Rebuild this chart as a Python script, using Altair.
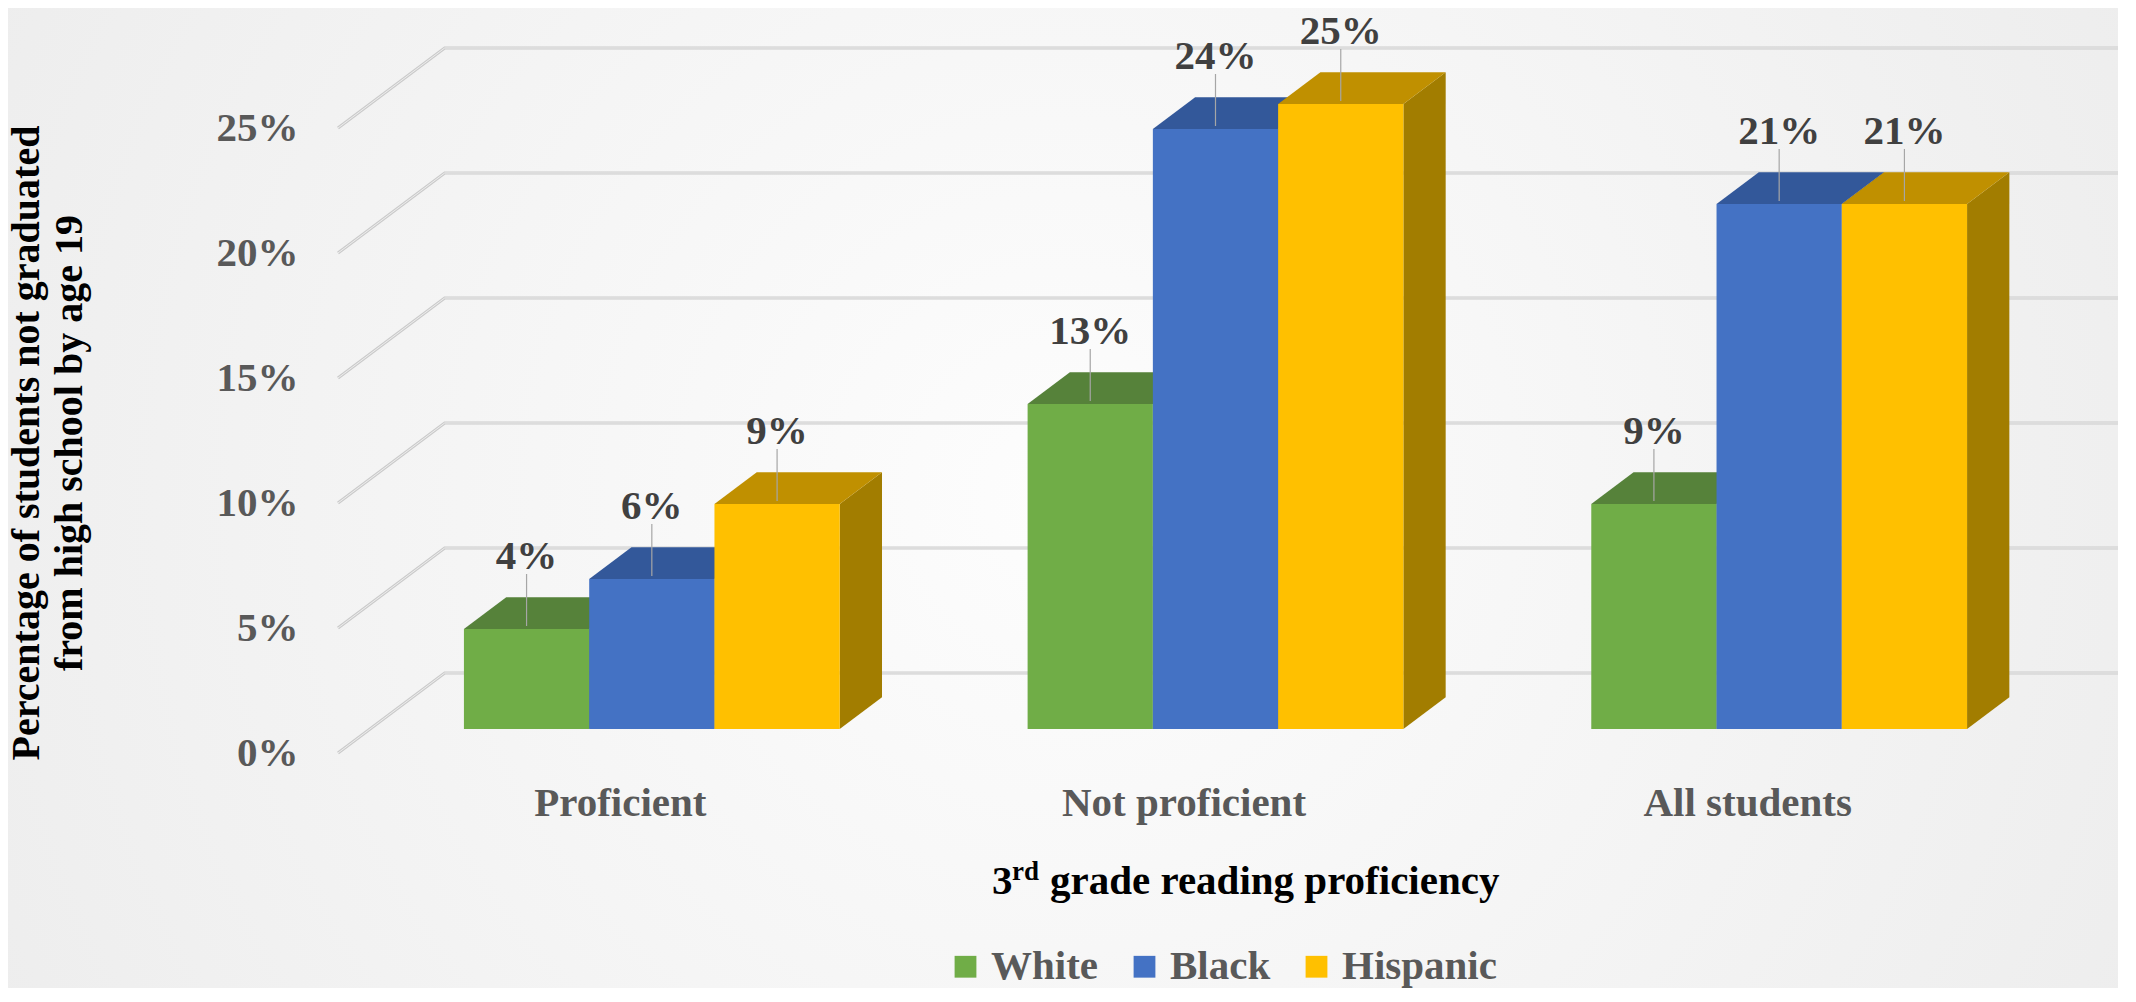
import json
import altair as alt
import pandas as pd

# ---------------- data ----------------
CATEGORIES = ["Proficient", "Not proficient", "All students"]
SERIES = ["White", "Black", "Hispanic"]
WHITE = [4, 13, 9]
BLACK = [6, 24, 21]
HISPANIC = [9, 25, 21]
TICKS = [0, 5, 10, 15, 20, 25]

# ---------------- style ----------------
FRONT_COLORS = ["#70AD47", "#4472C4", "#FFC000"]
TOP_COLORS = ["#56823A", "#33589A", "#C09000"]
SIDE_COLORS = ["#4B7231", "#2B4C85", "#A27D00"]
FONT = "Liberation Serif"

PX_PER_X = 125.26          # pixels per bar width
PX_PER_Y = 25.0            # pixels per percentage point
W, H = 1780, 745
XMAX = W / PX_PER_X
YMAX = H / PX_PER_Y
GROUP_START, GROUP_STEP = 0.75, 4.5
BX0, BY0 = 0.2554, 0.96    # bar front plane relative to floor front
BDX, BDY = 0.3376, 1.268   # bar depth
WX, WY = 0.8516, 3.2       # floor depth (back wall offset)
LABEL_OFF = 2.9

values = {"White": WHITE, "Black": BLACK, "Hispanic": HISPANIC}

front, top, side, lab = [], [], [], []
for si, s in enumerate(SERIES):
    for gi, c in enumerate(CATEGORIES):
        v = values[s][gi]
        a = GROUP_START + gi * GROUP_STEP + si + BX0
        bid = f"{gi}{si}"
        front.append(dict(series=s, x=a, x2=a + 1, y=BY0, y2=v + BY0))
        top.append(dict(bid=bid, col=TOP_COLORS[si], y=v + BY0, x=a, x2=a + 1))
        top.append(dict(bid=bid, col=TOP_COLORS[si], y=v + BY0 + BDY, x=a + BDX, x2=a + 1 + BDX))
        side.append(dict(bid=bid, col=SIDE_COLORS[si], x=a + 1, y=BY0, y2=v + BY0))
        side.append(dict(bid=bid, col=SIDE_COLORS[si], x=a + 1 + BDX, y=BY0 + BDY, y2=v + BY0 + BDY))
        lab.append(dict(x=a + 0.5, ylab=v + BY0 + LABEL_OFF, yl1=v + BY0 + 0.12,
                        yl2=v + BY0 + 2.2, text=f"{v}%"))

grid = []
for t in TICKS:
    grid += [dict(tick=t, o=0, x=0, y=t), dict(tick=t, o=1, x=WX, y=t + WY),
             dict(tick=t, o=2, x=XMAX, y=t + WY)]

df_front, df_top, df_side = pd.DataFrame(front), pd.DataFrame(top), pd.DataFrame(side)
df_lab, df_grid = pd.DataFrame(lab), pd.DataFrame(grid)

XS = alt.Scale(domain=[0, XMAX], nice=False, zero=False)
YS = alt.Scale(domain=[0, YMAX], nice=False, zero=False)
cat_centers = [GROUP_START + gi * GROUP_STEP + 1.5 for gi in range(len(CATEGORIES))]
XAX = alt.Axis(values=cat_centers,
               labelExpr=f"{json.dumps(CATEGORIES)}[round((datum.value - {cat_centers[0]}) / {GROUP_STEP})]",
               labelPadding=30, tickSize=0, ticks=False, domain=False, grid=False,
               labelOverlap=False, labelFlush=False, labelBound=False, labelLimit=600,
               zindex=2)
YAX = alt.Axis(values=TICKS, labelExpr="datum.value + '%'", labelPadding=40, tickSize=0,
               ticks=False, domain=False, grid=False, labelOverlap=False, labelFlush=False,
               labelLimit=300, zindex=2)


def X(f, **kw):
    return alt.X(f, type="quantitative", scale=XS, axis=XAX, title=None, **kw)


def Y(f, **kw):
    return alt.Y(f, type="quantitative", scale=YS, axis=YAX, title=None, **kw)


bg = alt.Chart(pd.DataFrame({"a": [0]})).mark_rect(
    fill={"gradient": "radial",
          "stops": [{"offset": 0, "color": "#fdfdfd"}, {"offset": 1, "color": "#e8e8e8"}],
          "x1": 0.5, "y1": 0.5, "x2": 0.5, "y2": 0.5, "r1": 0, "r2": 0.75}
).encode(x=alt.value(-330), x2=alt.value(W), y=alt.value(0), y2=alt.value(980))

grid_outer = alt.Chart(df_grid).mark_line(stroke="#CBCBCB", strokeWidth=3.2).encode(
    x=X("x"), y=Y("y"), detail="tick:N", order="o:Q")
grid_inner = alt.Chart(df_grid).mark_line(stroke="#EEEEEE", strokeWidth=1).encode(
    x=X("x"), y=Y("y"), detail="tick:N", order="o:Q")

sides = alt.Chart(df_side).mark_area(orient="vertical").encode(
    x=X("x"), y=Y("y", stack=None), y2="y2:Q", detail="bid:N",
    color=alt.Color("col:N", scale=None))
tops = alt.Chart(df_top).mark_area(orient="horizontal").encode(
    y=Y("y"), x=X("x", stack=None), x2="x2:Q", detail="bid:N",
    color=alt.Color("col:N", scale=None))
fronts = alt.Chart(df_front).mark_rect().encode(
    x=X("x"), x2="x2:Q", y=Y("y"), y2="y2:Q",
    color=alt.Color("series:N", scale=alt.Scale(domain=SERIES, range=FRONT_COLORS),
                    legend=alt.Legend(title=None), sort=SERIES))

leaders = alt.Chart(df_lab).mark_rule(stroke="#A6A6A6", strokeWidth=1.2).encode(
    x=X("x"), y=Y("yl1"), y2="yl2:Q")
labels = alt.Chart(df_lab).mark_text(font=FONT, fontSize=41, fontWeight="bold",
                                     color="#404040", baseline="middle").encode(
    x=X("x"), y=Y("ylab"), text="text:N")

one = pd.DataFrame({"a": [0]})
ytitle = alt.Chart(one).mark_text(
    font=FONT, fontSize=40, fontWeight="bold", color="#000000", angle=270,
    align="center", baseline="middle", lineHeight=43, lineBreak="\n").encode(
    x=alt.value(-311), y=alt.value(435),
    text=alt.value("Percentage of students not graduated\nfrom high school by age 19"))

xt_kw = dict(font=FONT, fontWeight="bold", color="#000000", align="left", baseline="alphabetic")
xt1 = alt.Chart(one).mark_text(fontSize=41, **xt_kw).encode(
    x=alt.value(654), y=alt.value(886), text=alt.value("3"))
xt2 = alt.Chart(one).mark_text(fontSize=27, **xt_kw).encode(
    x=alt.value(674), y=alt.value(872), text=alt.value("rd"))
xt3 = alt.Chart(one).mark_text(fontSize=41, **xt_kw).encode(
    x=alt.value(712), y=alt.value(886), text=alt.value("grade reading proficiency"))

chart = alt.layer(
    bg, grid_outer, grid_inner, sides, tops, fronts, leaders, labels, ytitle, xt1, xt2, xt3
).resolve_scale(color="independent").properties(
    width=W, height=H,
    autosize=alt.AutoSizeParams(type="none"),
    padding={"left": 330, "top": 0, "right": 0, "bottom": 235},
    background="#eeeeee",
).configure_view(stroke=None).configure_axis(
    labelFont=FONT, labelFontSize=41, labelFontWeight="bold", labelColor="#595959"
).configure_legend(
    orient="none", legendX=607, legendY=938, direction="horizontal",
    symbolType="square", symbolSize=475, symbolStrokeWidth=0,
    labelFont=FONT, labelFontSize=41, labelFontWeight="bold", labelColor="#595959",
    labelOffset=5, columnPadding=25, padding=0, labelLimit=400, zindex=2
)

chart.save("out.html", embed_options={"renderer": "svg", "actions": False})
